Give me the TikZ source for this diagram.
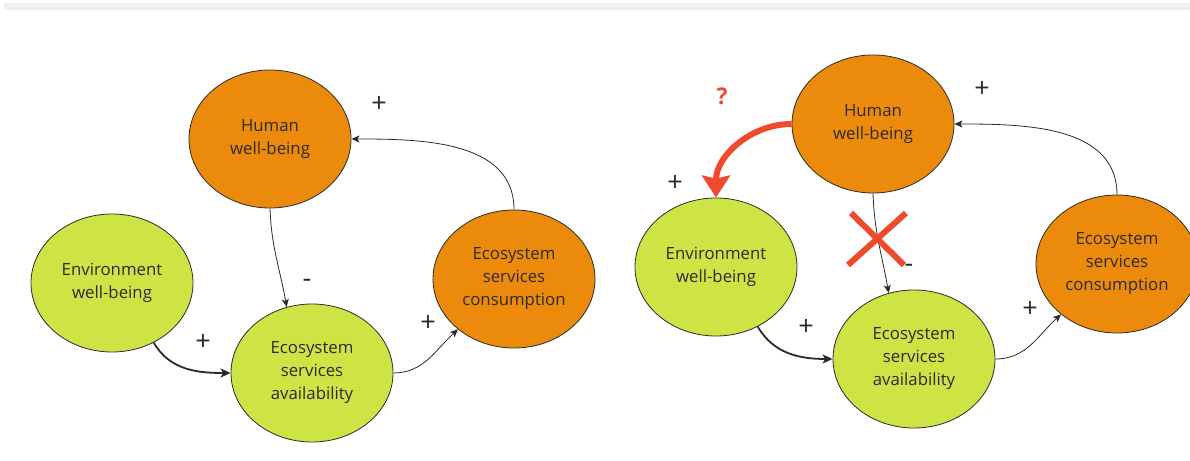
\documentclass[tikz,border=0pt]{standalone}
\usepackage{fontspec}
\setmainfont{Open Sans}
\usetikzlibrary{arrows.meta,positioning,shapes,calc}

\definecolor{hwb}{HTML}{EC8B0B}
\definecolor{ewb}{HTML}{CEE445}
\definecolor{ink}{HTML}{2B2B2B}
\definecolor{alert}{HTML}{F04A2C}
\definecolor{band}{HTML}{F0F0F0}

\tikzset{
  blob/.style={shape=ellipse,draw=ink,line width=0.8pt,minimum width=162pt,
    minimum height=138pt,inner sep=0pt,align=center,text=ink,
    font=\fontsize{16.8}{23}\selectfont},
  orangeblob/.style={blob,fill=hwb},
  greenblob/.style={blob,fill=ewb},
  link/.style={->,draw=ink,line width=0.8pt},
  strong/.style={-{Stealth[length=10pt,width=9pt,inset=2.5pt]},draw=ink,line width=1.8pt},
  sign/.style={text=ink,inner sep=0pt,font=\fontsize{27}{27}\selectfont},
  cross/.style={draw=alert,line width=6pt},
}

\begin{document}
\begin{tikzpicture}[x=1pt,y=1pt,>={Stealth[length=8pt,width=7pt,inset=2pt]}]
\clip (0,0) rectangle (1190,460);
\fill[white] (0,0) rectangle (1190,460);
\fill[band] (4,450) rectangle (1190,457);

% first loop
\node[orangeblob] (h1) at (270,321) {Human\\well-being};
\node[greenblob]  (e1) at (112,177) {Environment\\well-being};
\node[greenblob]  (a1) at (312,87)  {Ecosystem\\services\\availability};
\node[orangeblob] (c1) at (514,181) {Ecosystem\\services\\consumption};

\draw[link] (c1.north) to[out=90,in=0] (h1.east);
\draw[link] (h1.south) to[out=-88,in=100] (a1.111);
\draw[strong] (e1.-55) to[out=-60,in=180] (a1.west);
\draw[link] (a1.east) to[out=0,in=222] (c1.222);

\node[sign] (p1) at (379,356) {+};
\node[sign] (m1) at (307,177) {-};
\node[sign] (p2) at (203,118) {+};
\node[sign] (p3) at (428,137) {+};

% second loop, human well-being feeding the environment
\node[orangeblob] (h2) at (873,336) {Human\\well-being};
\node[greenblob]  (e2) at (716,193) {Environment\\well-being};
\node[greenblob]  (a2) at (914,101) {Ecosystem\\services\\availability};
\node[orangeblob] (c2) at (1117,196) {Ecosystem\\services\\consumption};

\draw[link] (c2.north) to[out=90,in=0] (h2.east);
\draw[link] (h2.south) to[out=-88,in=100] (a2.111);
\draw[strong] (e2.-55) to[out=-60,in=180] (a2.west);
\draw[link] (a2.east) to[out=0,in=222] (c2.222);
\draw[alert,line width=6pt,-{Stealth[length=22pt,width=28pt,inset=3pt]}]
  (h2.west) to[out=180,in=90] (e2.north);

\coordinate (x2) at (877,221);
\draw[cross] ($(x2)+(-29,-26)$) -- ($(x2)+(29,26)$);
\draw[cross] ($(x2)+(-26,26)$) -- ($(x2)+(27,-26)$);

\node[sign] (p4) at (982,371) {+};
\node[sign] (m2) at (909,192) {-};
\node[sign] (p5) at (806,133) {+};
\node[sign] (p6) at (1030,151) {+};
\node[sign] (p7) at (675,277) {+};
\node[text=alert,font=\fontsize{23}{23}\selectfont\bfseries] (q2) at (722,364) {?};
\end{tikzpicture}
\end{document}
